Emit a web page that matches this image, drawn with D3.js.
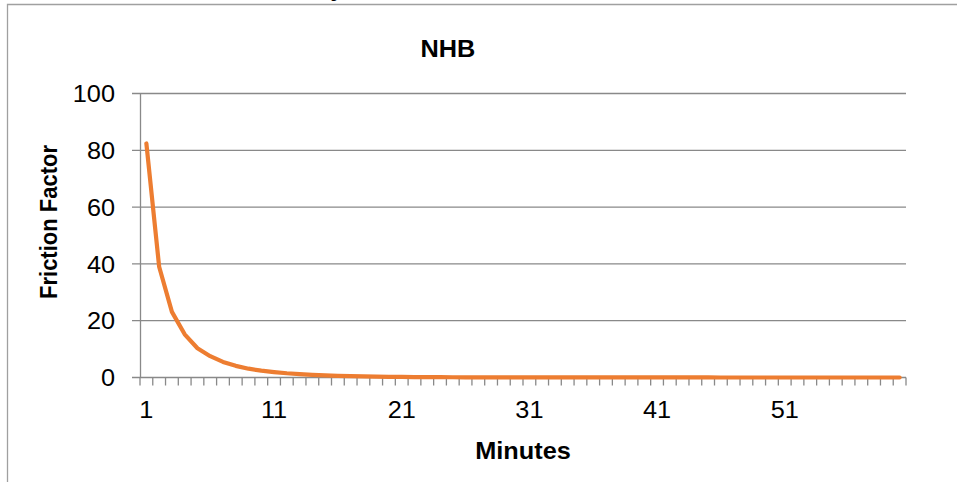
<!DOCTYPE html>
<html><head><meta charset="utf-8">
<script src="https://cdn.jsdelivr.net/npm/d3@7"></script>
<style>
html,body{margin:0;padding:0;background:#fff;}
svg{display:block;font-family:"Liberation Sans",Arial,sans-serif;}
</style></head>
<body><svg id="c" width="957" height="482"></svg>
<script>
const chartTitle = "NHB";
const xTitle = "Minutes";
const yTitle = "Friction Factor";
const minutes = d3.range(1, 61);
const frictionFactor = [
  82.4, 39.0, 23.1, 15.2, 10.3, 7.5, 5.5, 4.1, 3.1, 2.4,
  1.9, 1.5, 1.2, 0.95, 0.75, 0.6, 0.48, 0.38, 0.3, 0.24,
  0.19, 0.15, 0.12, 0.1, 0.08, 0.06, 0.05, 0.04, 0.03, 0.03,
  0.02, 0.02, 0.02, 0.02, 0.02, 0.01, 0.01, 0.01, 0.01, 0.01,
  0.01, 0.01, 0.01, 0.01, 0.01, 0, 0, 0, 0, 0,
  0, 0, 0, 0, 0, 0, 0, 0, 0, 0
];
const yTicks = [0, 20, 40, 60, 80, 100];
const xTickLabels = [1, 11, 21, 31, 41, 51];

const svg = d3.select("#c");
const L = 140, R = 906, T = 93.5, B = 377.5;
const SX = 1.1;
const gridColor = "#898989";

// outer border
svg.append("path").attr("d", `M7.5,482 V4.5 H957`).attr("fill", "none")
  .attr("stroke", "#a0a0a0").attr("stroke-width", 1.3);
// cut-off text fragment at top (as in the reference)
svg.append("text").attr("x", 334).attr("y", -2).attr("text-anchor", "middle")
  .attr("font-size", 15).text("g");

const x = d3.scaleBand().domain(minutes).range([L, R]).paddingInner(0).paddingOuter(0);
const y = d3.scaleLinear().domain([0, 100]).range([B, T]);

// gridlines
svg.append("g").selectAll("line").data(yTicks).join("line")
  .attr("x1", L - 8).attr("x2", R)
  .attr("y1", d => y(d)).attr("y2", d => y(d))
  .attr("stroke", gridColor).attr("stroke-width", 1.3);

// y axis
const yAxis = svg.append("g").attr("transform", `translate(${L},0)`)
  .call(d3.axisLeft(y).tickValues(yTicks).tickSize(0).tickPadding(0));
yAxis.select(".domain").attr("stroke", gridColor).attr("stroke-width", 1.3);
yAxis.selectAll("text").attr("x", 0).attr("dy", "0.36em")
  .attr("font-size", 23).attr("fill", "#000")
  .attr("font-family", '"Liberation Sans",Arial,sans-serif')
  .attr("transform", `translate(-25,0) scale(${SX},1)`);

// x axis tick marks at category boundaries
const boundaries = minutes.map(m => x(m)).concat([x(minutes[minutes.length - 1]) + x.bandwidth()]);
svg.append("g").selectAll("line").data(boundaries).join("line")
  .attr("x1", d => d).attr("x2", d => d).attr("y1", B).attr("y2", B + 8)
  .attr("stroke", gridColor).attr("stroke-width", 1.3);

// x axis labels
const xAxis = svg.append("g").attr("transform", `translate(0,${B})`)
  .call(d3.axisBottom(x).tickValues(xTickLabels).tickSize(0).tickPadding(0));
xAxis.select(".domain").remove();
xAxis.selectAll("text").attr("y", 0).attr("dy", 0)
  .attr("font-size", 23).attr("fill", "#000")
  .attr("font-family", '"Liberation Sans",Arial,sans-serif')
  .attr("transform", `translate(0,40) scale(${SX},1)`);

// line
const line = d3.line()
  .x((d, i) => x(minutes[i]) + x.bandwidth() / 2)
  .y(d => y(d));
svg.append("path").datum(frictionFactor)
  .attr("d", line).attr("fill", "none")
  .attr("stroke", "#ED7D31").attr("stroke-width", 4.2)
  .attr("stroke-linejoin", "round").attr("stroke-linecap", "round");

// titles
svg.append("text").attr("transform", `translate(448,57) scale(${SX},1)`)
  .attr("text-anchor", "middle").attr("font-weight", "bold").attr("font-size", 23)
  .text(chartTitle);
svg.append("text").attr("transform", `translate(523,459) scale(${SX},1)`)
  .attr("text-anchor", "middle").attr("font-weight", "bold").attr("font-size", 23)
  .text(xTitle);
svg.append("text").attr("transform", `translate(57,222) rotate(-90) scale(1,${SX})`)
  .attr("text-anchor", "middle").attr("font-weight", "bold").attr("font-size", 22)
  .text(yTitle);
</script></body></html>
